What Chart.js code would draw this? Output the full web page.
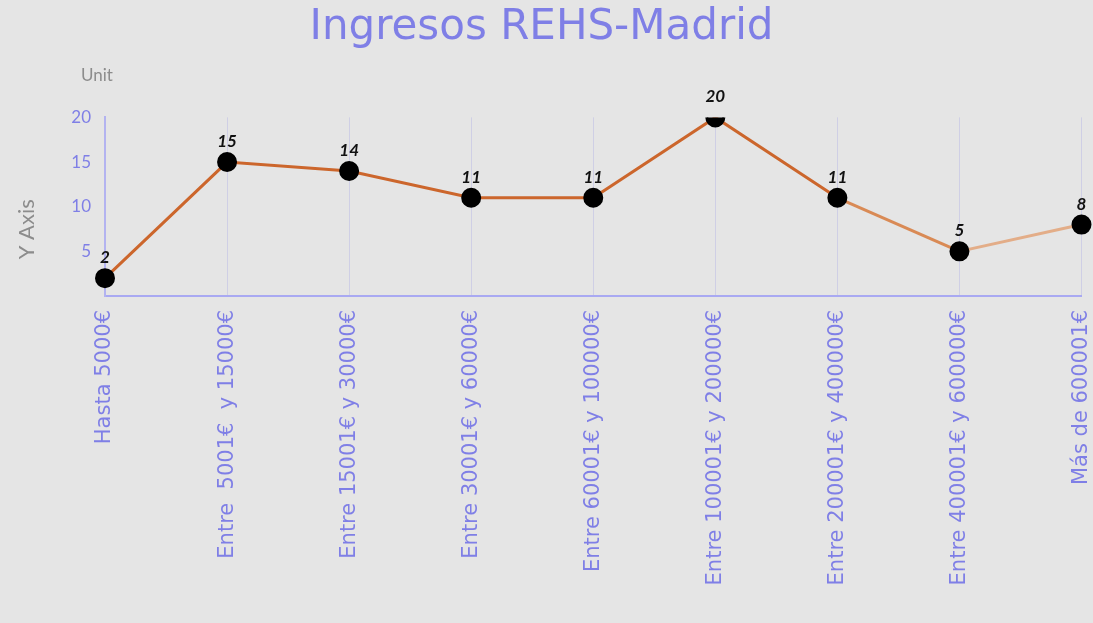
<!DOCTYPE html>
<html>
<head>
<meta charset="utf-8">
<script src="https://cdn.jsdelivr.net/npm/chart.js@4/dist/chart.umd.min.js"></script>
<style>
  html, body { margin: 0; padding: 0; background: #e5e5e5; }
  #wrap { width: 1093px; height: 623px; }
</style>
</head>
<body>
<div id="wrap"><canvas id="myChart" width="1093" height="623"></canvas></div>
<script>
const labels = [
  'Hasta 5000€',
  'Entre  5001€  y 15000€',
  'Entre 15001€ y 30000€',
  'Entre 30001€ y 60000€',
  'Entre 60001€ y 100000€',
  'Entre 100001€ y 200000€',
  'Entre 200001€ y 400000€',
  'Entre 400001€ y 600000€',
  'Más de 600001€',
];

const ingresos = [2, 15, 14, 11, 11, 20, 11, 5, 8];

const yTicks = [0, 5, 10, 15, 20];

const purple = '#7f7fe6';
const font = 'Lato, "Open Sans", sans-serif';
const wide = '"DejaVu Sans", sans-serif';

// background, value labels above the points, "Unit" label
const extras = {
  id: 'extras',
  beforeDraw(chart) {
    const ctx = chart.ctx;
    ctx.save();
    ctx.fillStyle = '#e5e5e5';
    ctx.fillRect(0, 0, chart.width, chart.height);
    ctx.restore();
  },
  afterDatasetsDraw(chart) {
    const ctx = chart.ctx;
    const meta = chart.getDatasetMeta(0);
    ctx.save();
    ctx.fillStyle = '#111';
    ctx.font = 'italic bold 17px ' + font;
    ctx.textAlign = 'center';
    ctx.textBaseline = 'bottom';
    meta.data.forEach((pt, i) => {
      ctx.fillText(ingresos[i], pt.x, pt.y - 12);
    });
    const y = chart.scales.y;
    ctx.fillStyle = '#8c8c8c';
    ctx.font = '17px ' + font;
    ctx.textAlign = 'center';
    ctx.textBaseline = 'middle';
    ctx.fillText('Unit', y.left + 97, y.top - 42);
    ctx.restore();
  }
};

const data = {
  labels: labels,
  datasets: [{
    label: 'Ingresos',
    data: ingresos,
    borderColor: '#cc662c',
    borderWidth: 3,
    tension: 0,
    pointRadius: 8.5,
    pointHoverRadius: 8.5,
    pointBackgroundColor: '#000',
    pointBorderColor: '#000',
    segment: {
      borderColor: c => c.p1DataIndex === 8 ? '#e3ad88' : (c.p1DataIndex === 7 ? '#d98a55' : '#cc662c')
    }
  }]
};

const config = {
  type: 'line',
  data: data,
  plugins: [extras],
  options: {
    responsive: false,
    animation: false,
    layout: { padding: { left: 0, right: 10, top: 0, bottom: 0 } },
    plugins: {
      legend: { display: false },
      tooltip: { enabled: false },
      title: {
        display: true,
        text: 'Ingresos REHS-Madrid',
        color: purple,
        font: { family: wide, size: 42, weight: 'normal' },
        padding: { top: 3, bottom: 64 }
      }
    },
    scales: {
      x: {
        offset: false,
        afterFit: s => { s.height = 327; s.paddingLeft = 0; s.paddingRight = 0; },
        grid: { display: true, color: 'rgba(190,190,230,0.55)', drawTicks: false },
        border: { display: true, color: '#a9a9f2', width: 2 },
        ticks: {
          color: purple,
          font: { family: wide, size: 21 },
          maxRotation: 90,
          minRotation: 90,
          autoSkip: false,
          padding: 14
        }
      },
      y: {
        min: 0,
        max: 20,
        afterFit: s => { s.width = 105; },
        afterBuildTicks: s => { s.ticks = yTicks.map(v => ({ value: v })); },
        grid: { display: false, drawTicks: false },
        border: { display: true, color: '#b3b3f0', width: 2 },
        ticks: {
          color: purple,
          font: { family: font, size: 17 },
          padding: 14,
          callback: v => v === 0 ? '' : v
        },
        title: {
          display: true,
          text: 'Y Axis        ',
          color: '#8c8c8c',
          font: { family: font, size: 22 },
          padding: { top: 14, bottom: 0 }
        }
      }
    }
  }
};

const myChart = new Chart(
  document.getElementById('myChart'),
  config
);
</script>
</body>
</html>
